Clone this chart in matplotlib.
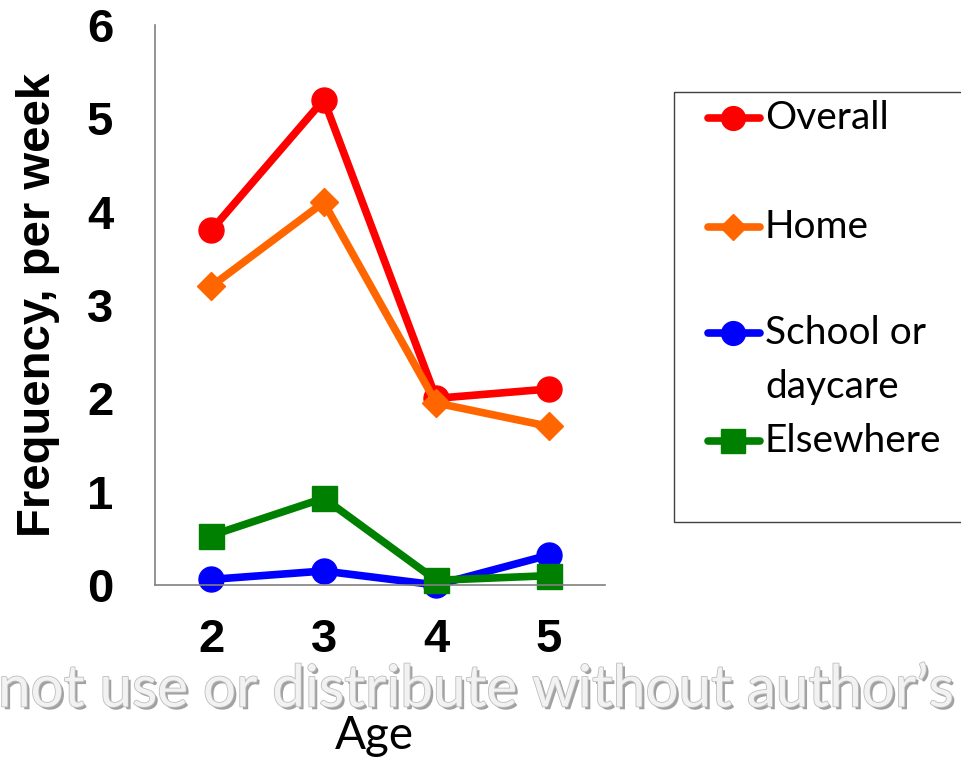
import matplotlib.pyplot as plt
import matplotlib.patheffects as pe
from matplotlib.patches import Rectangle

ages = [2, 3, 4, 5]
overall = [3.8, 5.2, 2.0, 2.1]
home = [3.2, 4.1, 1.95, 1.7]
school = [0.06, 0.15, 0.0, 0.32]
elsewhere = [0.53, 0.93, 0.05, 0.1]

series = [
    ("Overall", overall, "#FF0000", "o", 18),
    ("Home", home, "#FF6600", "D", 14),
    ("School or\ndaycare", school, "#0000FF", "o", 18),
    ("Elsewhere", elsewhere, "#008000", "s", 18),
]

W, H = 961, 760
fig = plt.figure(figsize=(W / 100, H / 100), dpi=100)
ax = fig.add_axes([155 / W, 1 - 585 / H, 450 / W, 560 / H])

for name, vals, col, mk, ms in series:
    ax.plot(ages, vals, color=col, lw=5.5, marker=mk, ms=ms,
            solid_joinstyle="miter", clip_on=False)

ax.set_xlim(1.5, 5.5)
ax.set_ylim(0, 6)
ax.set_xticks(ages)
ax.set_yticks(range(7))
for s in ["top", "right"]:
    ax.spines[s].set_visible(False)
for s in ["left", "bottom"]:
    ax.spines[s].set_color("#808080")
    ax.spines[s].set_linewidth(1.2)
ax.tick_params(length=0, labelsize=34)
ax.tick_params(axis="y", pad=30)
ax.tick_params(axis="x", pad=24)
for lab in ax.get_xticklabels() + ax.get_yticklabels():
    lab.set_fontweight("bold")
    lab.set_family("Liberation Sans")

fig.text(38 / W, 1 - 305 / H, "Frequency, per week", rotation=90,
         ha="center", va="center", fontsize=34, fontweight="bold",
         family="Liberation Sans")
fig.text(374 / W, 1 - 736 / H, "Age", ha="center", va="center",
         fontsize=33, family="Lato")

# legend drawn by hand so the two-line label keeps its marker on the first line
lax = fig.add_axes([0, 0, 1, 1], zorder=3)
lax.set_xlim(0, W)
lax.set_ylim(H, 0)
lax.axis("off")
lax.add_patch(Rectangle((674, 92), 320, 430, fill=False, ec="#404040", lw=1))
rows = [118, 227, 333, 441]
for (name, vals, col, mk, ms), y in zip(series, rows):
    lax.plot([708, 760], [y, y], color=col, lw=5.5, solid_capstyle="round")
    lax.plot([733], [y], color=col, marker=mk, ms=ms * 0.95)
    lax.text(765, y, name.split("\n")[0], va="center", ha="left",
             fontsize=28, family="Lato")
lax.text(765, 387, "daycare", va="center", ha="left", fontsize=28, family="Lato")

wm = fig.text(-2 / W, 1 - 690 / H, "not use or distribute without author\u2019s",
              ha="left", va="center", fontsize=42, family="Lato",
              color="#F2F2F2", zorder=10)
wm.set_path_effects([pe.SimplePatchShadow(offset=(2, -2), shadow_rgbFace="#8A8A8A", alpha=0.8),
                     pe.withStroke(linewidth=1.2, foreground="#BEBEBE")])

fig.savefig("out.png", dpi=100)
